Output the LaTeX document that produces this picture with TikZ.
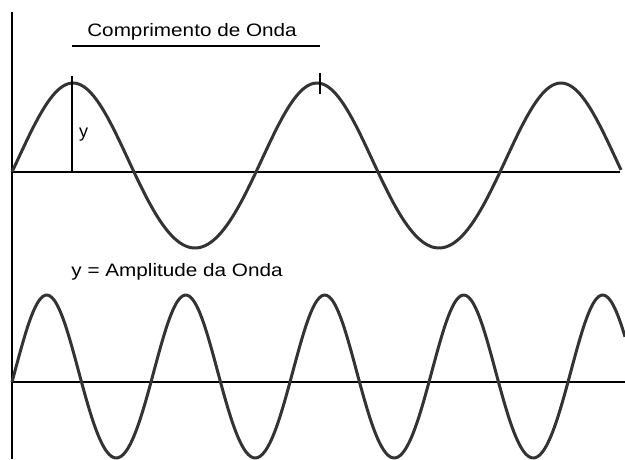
\documentclass[tikz,border=0pt]{standalone}
\usepackage{fontspec}
\setmainfont{Liberation Sans}
\usepackage{tikz}
\usetikzlibrary{positioning}
\definecolor{ink}{HTML}{333333}
\tikzset{
  eixo/.style={draw=black,line width=1.6pt},
  onda/.style={draw=ink,line width=3pt,line join=round,smooth},
  rotulo/.style={font=\fontsize{18}{19}\selectfont,inner sep=0pt,text=black},
  declare function={ww(\t,\a,\b)=\a*sin(\t)+\b*sin(\t)*sin(\t);},
}
\begin{document}
\begin{tikzpicture}[x=1pt,y=-1pt]
\useasboundingbox[fill=white] (0,0) rectangle (625,459);
\clip (0,0) rectangle (625,459);
% eixos
\draw[eixo] (12,12) -- (12,459);
\draw[eixo] (12,172) -- (620,172);
\draw[eixo] (12,382) -- (625,382);
% onda longa e onda curta
\draw[onda] plot[domain=12:621,samples=240] (\x,{172-ww((\x-12)/244*360,82.5,6.5)});
\draw[onda] plot[domain=12:625,samples=260] (\x,{382-ww((\x-12)/139*360,81.5,5.5)});
% comprimento e amplitude
\node[rotulo,anchor=base,xscale=1.15] (titulo) at (192,36) {Comprimento de Onda};
\draw[line width=2.4pt] (72,46) -- (320,46);
\draw[line width=1.6pt] (320,73) -- (320,94);
\draw[line width=1.4pt] (72,76) -- (72,172);
\node[rotulo,anchor=base west] (ylab) at (79,137) {y};
\node[rotulo,anchor=base,xscale=1.15] (amplitude) at (177,276) {y = Amplitude da Onda};
\end{tikzpicture}
\end{document}
